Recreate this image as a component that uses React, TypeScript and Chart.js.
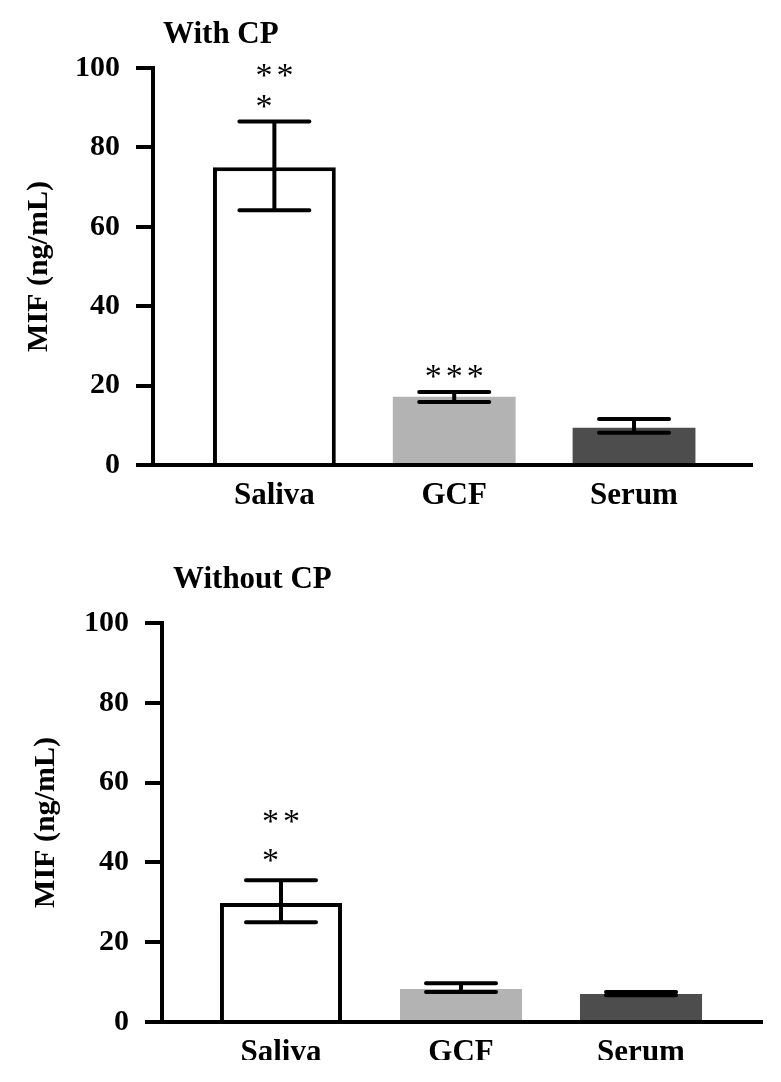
import React, { useEffect, useRef } from 'react';
import { Chart, registerables } from 'chart.js';

Chart.register(...registerables);

const categories = ['Saliva', 'GCF', 'Serum'];
const yTicks = [0, 20, 40, 60, 80, 100];

const withCPMean = [75, 17.2, 9.4];
const withCPHigh = [86.5, 18.4, 11.6];
const withCPLow = [64.2, 15.9, 8.1];
const withCPStars = [['**', '*'], ['***'], []];

const withoutCPMean = [29.8, 8.3, 7.0];
const withoutCPHigh = [35.5, 9.7, 7.5];
const withoutCPLow = [25.0, 7.5, 6.7];
const withoutCPStars = [['**', '*'], [], []];

const barColors = ['#ffffff', '#b3b3b3', '#4d4d4d'];
const barBorderWidths = [4, 0, 0];

const FONT = '"Liberation Serif", "Times New Roman", serif';

type Panel = {
  title: string;
  mean: number[];
  high: number[];
  low: number[];
  stars: string[][];
  height: number;
  top: number;
  left: number;
  right: number;
  xAxisHeight: number;
  xMin: number;
  xMax: number;
  barPct: number;
  titleX: number;
  titleY: number;
  yTitlePad: number;
  starGap: number;
  starLineGap: number;
};

const panels: Panel[] = [
  {
    title: 'With CP',
    mean: withCPMean,
    high: withCPHigh,
    low: withCPLow,
    stars: withCPStars,
    height: 540,
    top: 68,
    left: 153,
    right: 29,
    xAxisHeight: 75,
    xMin: 0.325,
    xMax: 3.656,
    barPct: 0.683,
    titleX: 163,
    titleY: 43,
    yTitlePad: 21,
    starGap: 20,
    starLineGap: 31,
  },
  {
    title: 'Without CP',
    mean: withoutCPMean,
    high: withoutCPHigh,
    low: withoutCPLow,
    stars: withoutCPStars,
    height: 520,
    top: 83,
    left: 162,
    right: 19,
    xAxisHeight: 38,
    xMin: 0.339,
    xMax: 3.672,
    barPct: 0.678,
    titleX: 173,
    titleY: 48,
    yTitlePad: 28,
    starGap: 25,
    starLineGap: 39,
  },
];

function makeConfig(p: Panel): any {
  const annotate = {
    id: 'annotate',
    afterDatasetsDraw(chart: any) {
      const ctx = chart.ctx;
      const xs = chart.scales.x;
      const ys = chart.scales.y;
      ctx.save();
      ctx.strokeStyle = '#000';
      ctx.lineWidth = 4;
      ctx.lineCap = 'round';
      const capHalf = 35;
      const starStep = 21;
      p.mean.forEach((_, i) => {
        const cx = xs.getPixelForValue(i + 1);
        const yHi = ys.getPixelForValue(p.high[i]);
        const yLo = ys.getPixelForValue(p.low[i]);
        ctx.beginPath();
        ctx.moveTo(cx, yHi);
        ctx.lineTo(cx, yLo);
        ctx.moveTo(cx - capHalf, yHi);
        ctx.lineTo(cx + capHalf, yHi);
        ctx.moveTo(cx - capHalf, yLo);
        ctx.lineTo(cx + capHalf, yLo);
        ctx.stroke();
        const lines = p.stars[i];
        if (lines.length) {
          ctx.font = `34px ${FONT}`;
          ctx.fillStyle = '#000';
          ctx.textAlign = 'center';
          ctx.textBaseline = 'alphabetic';
          const m = ctx.measureText('*');
          const shift = (m.actualBoundingBoxAscent - m.actualBoundingBoxDescent) / 2;
          const firstX = cx - ((lines[0].length - 1) * starStep) / 2;
          for (let k = lines.length - 1, n = 0; k >= 0; k--, n++) {
            const centerY = yHi - p.starGap - n * p.starLineGap;
            for (let j = 0; j < lines[k].length; j++) {
              ctx.fillText(lines[k][j], firstX + j * starStep, centerY + shift);
            }
          }
        }
      });
      ctx.font = `bold 31px ${FONT}`;
      ctx.fillStyle = '#000';
      ctx.textAlign = 'left';
      ctx.textBaseline = 'alphabetic';
      ctx.fillText(p.title, p.titleX, p.titleY);
      ctx.restore();
    },
  };

  return {
    type: 'bar',
    data: {
      datasets: [
        {
          data: p.mean.map((v, i) => ({ x: i + 1, y: v })),
          backgroundColor: barColors,
          borderColor: '#000',
          borderWidth: barBorderWidths,
          borderSkipped: 'start',
          barPercentage: p.barPct,
          categoryPercentage: 1,
        },
      ],
    },
    options: {
      responsive: false,
      animation: false,
      devicePixelRatio: 1,
      layout: { padding: { top: p.top, left: 0, right: p.right, bottom: 0 } },
      plugins: { legend: { display: false }, tooltip: { enabled: false }, title: { display: false } },
      scales: {
        x: {
          type: 'linear',
          offset: false,
          min: p.xMin,
          max: p.xMax,
          afterBuildTicks: (s: any) => {
            s.ticks = categories.map((_, i) => ({ value: i + 1 }));
          },
          afterFit: (s: any) => {
            s.height = p.xAxisHeight;
          },
          ticks: {
            callback: (v: any) => categories[Math.round(v) - 1] ?? '',
            font: { family: FONT, size: 31, weight: 'bold' },
            color: '#000',
            padding: 12,
            maxRotation: 0,
            autoSkip: false,
          },
          grid: { display: true, offset: false, drawOnChartArea: false, drawTicks: false },
          border: { display: true, width: 4, color: '#000', z: 1 },
        },
        y: {
          min: 0,
          max: 100,
          afterBuildTicks: (s: any) => {
            s.ticks = yTicks.map((v) => ({ value: v }));
          },
          afterFit: (s: any) => {
            s.width = p.left;
          },
          ticks: {
            font: { family: FONT, size: 30, weight: 'bold' },
            color: '#000',
            padding: 16,
          },
          grid: {
            display: true,
            drawOnChartArea: false,
            drawTicks: true,
            tickLength: 17,
            lineWidth: 4,
            color: '#000',
          },
          border: { display: true, width: 4, color: '#000', z: 1 },
          title: {
            display: true,
            text: 'MIF (ng/mL)',
            font: { family: FONT, size: 30, weight: 'bold' },
            color: '#000',
            padding: { top: p.yTitlePad, bottom: 0 },
          },
        },
      },
    },
    plugins: [annotate],
  };
}

function PanelChart({ panel }: { panel: Panel }) {
  const ref = useRef<HTMLCanvasElement | null>(null);
  useEffect(() => {
    if (!ref.current) return;
    const chart = new Chart(ref.current, makeConfig(panel));
    return () => chart.destroy();
  }, [panel]);
  return (
    <canvas
      ref={ref}
      width={781}
      height={panel.height}
      style={{ display: 'block', width: 781, height: panel.height }}
    />
  );
}

export default function App() {
  return (
    <div
      style={{
        position: 'fixed',
        left: 0,
        top: 0,
        width: 781,
        height: 1082,
        background: '#fff',
        overflow: 'hidden',
      }}
    >
      {panels.map((p) => (
        <PanelChart key={p.title} panel={p} />
      ))}
    </div>
  );
}
